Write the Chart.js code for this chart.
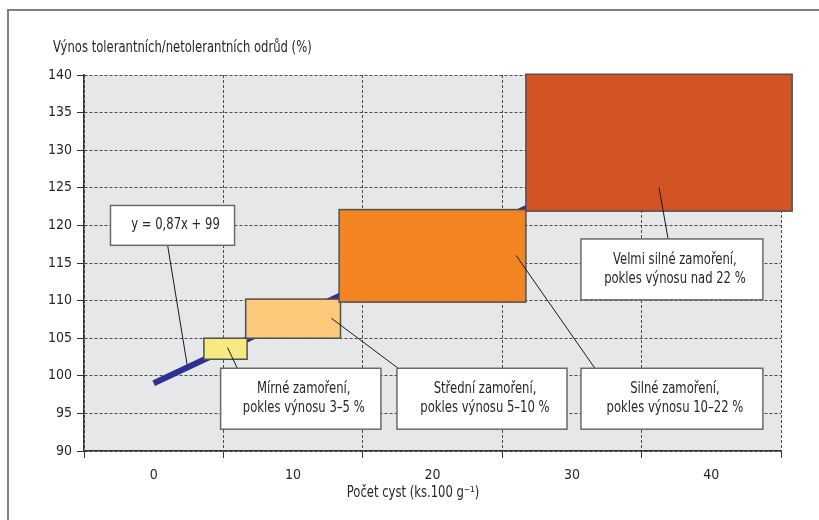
<!DOCTYPE html>
<html>
<head>
<meta charset="utf-8">
<script src="https://cdn.jsdelivr.net/npm/chart.js@4/dist/chart.umd.min.js"></script>
<style>
    body { margin: 0; background: #fff; }
    .wrap { position: relative; width: 819px; height: 520px; overflow: hidden; }
    .frame { position: absolute; left: 7px; top: 9px; right: -4px; bottom: -4px;
             border-top: 2px solid #808080; border-left: 2px solid #808080; }
    canvas { position: absolute; left: 0; top: 0; }
</style>
</head>
<body>
<div class="wrap">
    <div class="frame"></div>
    <canvas id="chart" width="819" height="520"></canvas>
</div>
<script>
// --- Data ---
const xLabelValues = [0, 10, 20, 30, 40];
const trendX = [0, 45];
const trendY = [99, 138.2];
const equationText = 'y = 0,87x + 99';

// infestation zones (x = cysts, y = yield %)
const zoneX0 = [3.6, 6.6, 13.3, 26.7];
const zoneX1 = [6.7, 13.4, 26.7, 45.8];
const zoneY0 = [102.2, 105, 109.8, 121.9];
const zoneY1 = [105, 110.2, 122.1, 140.1];
const zoneLines = [
    ['Mírné zamoření,', 'pokles výnosu 3–5 %'],
    ['Střední zamoření,', 'pokles výnosu 5–10 %'],
    ['Silné zamoření,', 'pokles výnosu 10–22 %'],
    ['Velmi silné zamoření,', 'pokles výnosu nad 22 %']
];
const zoneColors = ['#f6ea80', '#fdc97a', '#f28522', '#d25425'];

// callout boxes, in data units: [x0, x1, y0, y1], leader [xa, ya, xb, yb]
const calloutBoxes = [
    [-3.1, 5.8, 117.35, 122.65],
    [4.8, 16.3, 92.9, 101.0],
    [17.45, 29.65, 92.9, 101.0],
    [30.65, 43.7, 92.9, 101.0],
    [30.65, 43.7, 110.1, 118.2]
];
const calloutLeaders = [
    [1.0, 117.35, 2.4, 101.45],
    [6.0, 101.0, 5.3, 103.75],
    [17.5, 101.05, 12.75, 107.65],
    [31.65, 101.0, 26.0, 116.0],
    [36.9, 118.2, 36.25, 125.05]
];
const calloutTexts = [[equationText]].concat(zoneLines);

const FONT = '"Liberation Sans Narrow", "DejaVu Sans Condensed", sans-serif';
const TEXT = '#2a2627';
const GRID = '#4a4a4a';

// narrow text: draw a bigger font squeezed horizontally
function narrowText(ctx, s, x, y, align) {
    ctx.save();
    ctx.translate(x, y);
    ctx.scale(0.86, 1);
    ctx.textAlign = align;
    ctx.fillText(s, 0, 0);
    ctx.restore();
}

// --- Plot background ---
const plotBg = {
    id: 'plotBg',
    beforeDraw(chart) {
        const a = chart.chartArea, ctx = chart.ctx;
        ctx.save();
        ctx.fillStyle = '#e6e7e9';
        ctx.fillRect(a.left, a.top, a.right - a.left, a.bottom - a.top);
        ctx.restore();
    }
};

// --- Zones, callouts and titles ---
const overlay = {
    id: 'overlay',
    afterDatasetsDraw(chart) {
        const ctx = chart.ctx;
        const xs = chart.scales.x, ys = chart.scales.y;
        const px = v => xs.getPixelForValue(v);
        const py = v => ys.getPixelForValue(v);
        ctx.save();
        // zones
        zoneX0.forEach((x0, i) => {
            const l = px(x0), r = px(zoneX1[i]), t = py(zoneY1[i]), b = py(zoneY0[i]);
            ctx.fillStyle = zoneColors[i];
            ctx.fillRect(l, t, r - l, b - t);
            ctx.strokeStyle = '#505050';
            ctx.lineWidth = 1.5;
            ctx.strokeRect(l, t, r - l, b - t);
        });
        // leaders
        ctx.strokeStyle = '#1a1a1a';
        ctx.lineWidth = 1;
        calloutLeaders.forEach(ld => {
            ctx.beginPath();
            ctx.moveTo(px(ld[0]), py(ld[1]));
            ctx.lineTo(px(ld[2]), py(ld[3]));
            ctx.stroke();
        });
        // boxes
        ctx.font = '15px ' + FONT;
        ctx.textBaseline = 'middle';
        calloutBoxes.forEach((bx, i) => {
            const l = px(bx[0]), r = px(bx[1]), t = py(bx[3]), b = py(bx[2]);
            ctx.fillStyle = '#fff';
            ctx.fillRect(l, t, r - l, b - t);
            ctx.strokeStyle = '#6a6a6a';
            ctx.lineWidth = 1.5;
            ctx.strokeRect(l, t, r - l, b - t);
            const lines = calloutTexts[i];
            const cx = (l + r) / 2, cy = (t + b) / 2;
            ctx.fillStyle = TEXT;
            lines.forEach((s, k) => {
                narrowText(ctx, s, cx + 3, cy + (k - (lines.length - 1) / 2) * 18.5, 'center');
            });
        });
        // axis titles
        narrowText(ctx, 'Výnos tolerantních/netolerantních odrůd (%)', 53, 48, 'left');
        narrowText(ctx, 'Počet cyst (ks.100 g\u207B\u00B9)', 413, 493, 'center');
        ctx.restore();
    }
};

new Chart(document.getElementById('chart').getContext('2d'), {
    type: 'line',
    data: {
        datasets: [{
            data: trendX.map((x, i) => ({ x: x, y: trendY[i] })),
            borderColor: '#2e3192',
            borderWidth: 6,
            borderCapStyle: 'butt',
            pointRadius: 0,
            fill: false,
            tension: 0
        }]
    },
    options: {
        responsive: false,
        animation: false,
        devicePixelRatio: 1,
        layout: { padding: { top: 75, right: 38, left: 0, bottom: 0 } },
        plugins: { legend: { display: false }, tooltip: { enabled: false } },
        scales: {
            x: {
                type: 'linear',
                min: -5,
                max: 45,
                afterFit: s => { s.height = 69; },
                ticks: {
                    stepSize: 5,
                    autoSkip: false,
                    maxRotation: 0,
                    padding: 9,
                    color: TEXT,
                    font: { family: FONT, size: 14 },
                    callback: v => xLabelValues.includes(v) ? String(v) : ''
                },
                grid: {
                    color: c => (c.tick && c.tick.value % 10 !== 0) ? GRID : 'rgba(0,0,0,0)',
                    tickColor: c => (c.tick && c.tick.value % 10 !== 0) ? '#333' : 'rgba(0,0,0,0)',
                    tickLength: 7,
                    lineWidth: 1
                },
                border: { display: true, color: '#333', width: 1.5, dash: [3, 2] }
            },
            y: {
                min: 90,
                max: 140,
                afterFit: s => { s.width = 84; },
                ticks: {
                    stepSize: 5,
                    padding: 5,
                    color: TEXT,
                    font: { family: FONT, size: 14 }
                },
                grid: { color: GRID, tickColor: '#333', tickLength: 7, lineWidth: 1 },
                border: { display: true, color: '#333', width: 1.5, dash: [3, 2] }
            }
        }
    },
    plugins: [plotBg, overlay]
});
</script>
</body>
</html>
